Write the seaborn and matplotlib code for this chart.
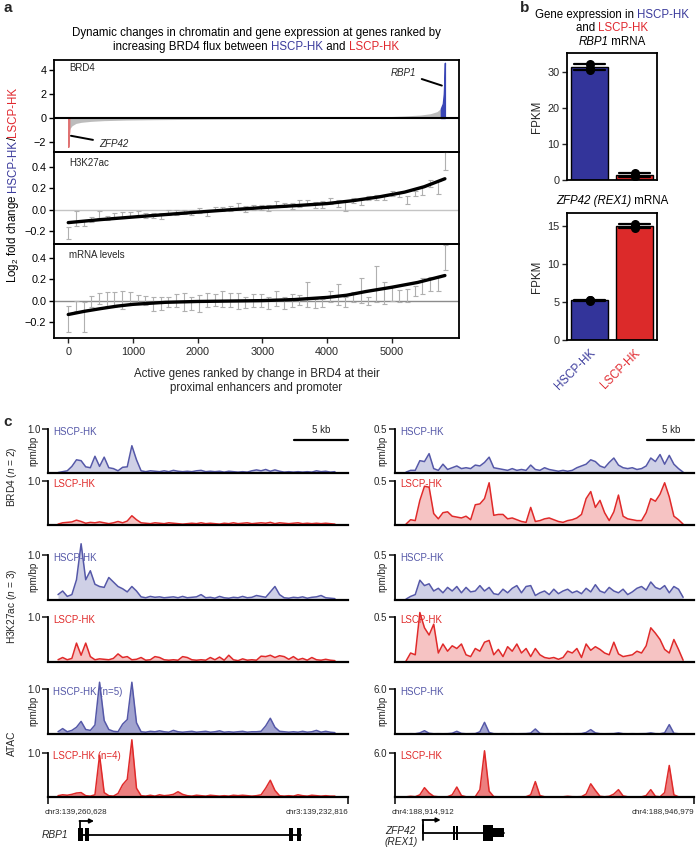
import numpy as np
import pandas as pd
import matplotlib
matplotlib.use('Agg')
import matplotlib.pyplot as plt
import seaborn as sns
from matplotlib.patches import Rectangle

sns.set_theme(style='ticks')
plt.rcParams['font.family'] = ['Liberation Sans', 'DejaVu Sans']
plt.rcParams['mathtext.fontset'] = 'custom'
plt.rcParams['mathtext.rm'] = 'Liberation Sans'
plt.rcParams['mathtext.it'] = 'Liberation Sans:italic'
plt.rcParams['mathtext.bf'] = 'Liberation Sans:bold'
plt.rcParams['axes.unicode_minus'] = True

BLUE_T = '#3b3b9c'
RED_T = '#e0282e'
BAR_BLUE = '#33349a'
BAR_RED = '#dc2a2a'
TR_BLUE = '#5558a8'
TR_RED = '#e02a2a'

# ---------------- panel a data ----------------
brd4_rank = [0, 6, 15, 30, 60, 120, 200, 350, 550, 900, 1325, 2000, 2870, 3600,
             4300, 4930, 5200, 5450, 5600, 5700, 5760, 5790, 5805, 5815, 5822]
brd4_lfc = [-2.4, -1.5, -1.1, -0.85, -0.64, -0.45, -0.36, -0.28, -0.22, -0.17, -0.14,
            -0.11, -0.08, -0.04, 0.02, 0.11, 0.17, 0.25, 0.36, 0.53, 0.8, 1.2, 2.0, 3.2, 4.6]

bin_rank = [0, 119, 238, 357, 476, 595, 714, 833, 952, 1071, 1190, 1309, 1428, 1547,
            1666, 1785, 1904, 2023, 2142, 2261, 2380, 2499, 2618, 2737, 2856, 2975,
            3094, 3213, 3332, 3451, 3570, 3689, 3808, 3927, 4046, 4165, 4284, 4403,
            4522, 4641, 4760, 4879, 4998, 5117, 5236, 5355, 5474, 5593, 5712, 5831]

h3_hi = [-0.16, -0.01, -0.10, -0.07, -0.015, -0.055, -0.03, -0.025, -0.02, -0.015,
         -0.03, -0.03, -0.03, -0.006, -0.006, 0.0, 0.0, 0.016, 0.0, 0.03,
         0.03, 0.037, 0.06, 0.037, 0.047, 0.047, 0.04, 0.08, 0.062, 0.062,
         0.09, 0.09, 0.07, 0.08, 0.106, 0.087, 0.08, 0.11, 0.11, 0.13,
         0.14, 0.14, 0.18, 0.17, 0.13, 0.18, 0.22, 0.275, 0.265, 0.54]
h3_lo = [-0.275, -0.15, -0.15, -0.11, -0.08, -0.095, -0.08, -0.08, -0.07, -0.06,
         -0.08, -0.08, -0.085, -0.047, -0.047, -0.037, -0.047, -0.03, -0.056, -0.006,
         -0.016, -0.016, -0.006, -0.025, 0.0, 0.0, -0.016, 0.025, 0.025, 0.006,
         0.03, 0.04, 0.016, 0.016, 0.056, 0.03, -0.01, 0.062, 0.047, 0.087,
         0.094, 0.087, 0.125, 0.115, 0.056, 0.125, 0.14, 0.21, 0.15, 0.37]
h3_fit_rank = [0, 500, 1000, 1500, 2000, 2500, 3000, 3500, 4000, 4400, 4800, 5200, 5500, 5822]
h3_fit = [-0.12, -0.092, -0.068, -0.045, -0.022, 0.0, 0.02, 0.038, 0.058, 0.085,
          0.12, 0.165, 0.215, 0.29]

mrna_hi = [-0.047, 0.0, -0.016, 0.047, 0.069, 0.078, 0.078, 0.094, 0.078, 0.056,
           0.047, 0.031, 0.037, 0.031, 0.063, 0.069, 0.031, 0.056, 0.069, 0.063,
           0.087, 0.069, 0.069, 0.031, 0.063, 0.063, 0.037, 0.094, 0.031, 0.063,
           0.056, 0.172, 0.016, 0.016, 0.094, 0.156, 0.037, 0.078, 0.212, 0.031,
           0.328, 0.178, 0.125, 0.1, 0.109, 0.141, 0.212, 0.225, 0.225, 0.516]
mrna_lo = [-0.297, -0.094, -0.297, -0.063, -0.031, -0.047, -0.063, -0.078, -0.031, -0.025,
           -0.037, -0.094, -0.087, -0.056, -0.056, -0.1, -0.087, -0.109, -0.063, -0.047,
           -0.056, -0.063, -0.078, -0.069, -0.063, -0.056, -0.078, -0.047, -0.078, -0.063,
           -0.037, -0.063, -0.069, -0.063, -0.016, -0.037, -0.056, -0.016, -0.025, -0.037,
           -0.016, -0.031, 0.0, -0.016, -0.016, 0.047, 0.063, 0.094, 0.094, 0.287]
mrna_fit_rank = [0, 250, 500, 750, 1000, 1500, 2000, 2500, 3000, 3500, 4000, 4300,
                 4600, 5000, 5400, 5822]
mrna_fit = [-0.13, -0.10, -0.075, -0.052, -0.035, -0.016, -0.008, -0.004, 0.0, 0.01,
            0.03, 0.05, 0.085, 0.125, 0.17, 0.235]

x_ticks_a = [0, 1000, 2000, 3000, 4000, 5000]

# ---------------- panel b data ----------------
conditions = ['HSCP-HK', 'LSCP-HK']
rbp1_hscp = [32.3, 31.2, 30.6]
rbp1_lscp = [1.9, 1.2, 1.1]
zfp42_hscp = [5.1, 5.3, 5.2]
zfp42_lscp = [15.3, 14.7, 15.0]

# ---------------- panel c data ----------------
left_len_kb = 27.812      # chr3:139,260,628 - 139,232,816
right_len_kb = 32.067     # chr4:188,914,912 - 188,946,979
left_span = (0.93, 26.6)
right_span = (1.18, 30.9)

brd4_hscp_L = [0.01, 0.03, 0.05, 0.15, 0.30, 0.28, 0.14, 0.12, 0.38, 0.15, 0.36, 0.12, 0.10,
               0.05, 0.13, 0.14, 0.62, 0.30, 0.05, 0.03, 0.05, 0.04, 0.03, 0.05, 0.03, 0.06,
               0.04, 0.03, 0.04, 0.03, 0.05, 0.06, 0.03, 0.04, 0.03, 0.04, 0.02, 0.04, 0.03,
               0.02, 0.03, 0.02, 0.05, 0.07, 0.05, 0.08, 0.04, 0.07, 0.04, 0.02, 0.03, 0.02,
               0.03, 0.02, 0.03, 0.02, 0.05, 0.03, 0.04, 0.02, 0.03]
brd4_lscp_L = [0.02, 0.05, 0.06, 0.07, 0.11, 0.08, 0.04, 0.06, 0.05, 0.07, 0.05, 0.03, 0.05,
               0.08, 0.05, 0.09, 0.21, 0.12, 0.05, 0.04, 0.03, 0.05, 0.04, 0.03, 0.05, 0.04,
               0.03, 0.02, 0.03, 0.04, 0.03, 0.05, 0.03, 0.04, 0.03, 0.02, 0.04, 0.03, 0.05,
               0.03, 0.04, 0.05, 0.03, 0.04, 0.05, 0.04, 0.06, 0.03, 0.05, 0.04, 0.03, 0.04,
               0.05, 0.03, 0.04, 0.03, 0.04, 0.03, 0.04, 0.03, 0.02]
h3_hscp_L = [0.12, 0.2, 0.08, 0.12, 0.45, 1.25, 0.45, 0.65, 0.35, 0.3, 0.28, 0.5, 0.4, 0.3,
             0.25, 0.18, 0.3, 0.2, 0.07, 0.05, 0.08, 0.06, 0.07, 0.05, 0.06, 0.07, 0.05,
             0.08, 0.05, 0.06, 0.07, 0.12, 0.05, 0.06, 0.04, 0.08, 0.05, 0.04, 0.06, 0.05,
             0.08, 0.05, 0.06, 0.1, 0.08, 0.06, 0.18, 0.3, 0.12, 0.05, 0.04, 0.06, 0.05,
             0.07, 0.04, 0.06, 0.07, 0.1, 0.05, 0.04, 0.03]
h3_lscp_L = [0.05, 0.1, 0.05, 0.08, 0.42, 0.15, 0.42, 0.12, 0.05, 0.07, 0.06, 0.05, 0.08,
             0.18, 0.1, 0.12, 0.05, 0.06, 0.1, 0.04, 0.05, 0.12, 0.1, 0.05, 0.04, 0.05,
             0.04, 0.12, 0.1, 0.05, 0.04, 0.05, 0.04, 0.1, 0.05, 0.11, 0.04, 0.15, 0.05,
             0.03, 0.07, 0.04, 0.05, 0.04, 0.13, 0.12, 0.15, 0.1, 0.14, 0.12, 0.06, 0.12,
             0.05, 0.08, 0.04, 0.1, 0.05, 0.04, 0.06, 0.04, 0.03]
atac_hscp_L = [0.05, 0.12, 0.05, 0.08, 0.15, 0.28, 0.1, 0.08, 0.2, 1.15, 0.3, 0.1, 0.06,
               0.05, 0.22, 0.32, 1.15, 0.25, 0.05, 0.04, 0.06, 0.05, 0.07, 0.05, 0.04,
               0.08, 0.05, 0.04, 0.05, 0.06, 0.04, 0.05, 0.06, 0.04, 0.05, 0.07, 0.04,
               0.05, 0.04, 0.05, 0.06, 0.04, 0.05, 0.05, 0.06, 0.18, 0.35, 0.15, 0.06,
               0.05, 0.04, 0.05, 0.04, 0.06, 0.04, 0.05, 0.08, 0.04, 0.06, 0.04, 0.03]
atac_lscp_L = [0.03, 0.05, 0.04, 0.06, 0.09, 0.1, 0.03, 0.02, 0.05, 0.95, 0.1, 0.03, 0.02,
               0.08, 0.28, 0.4, 1.3, 0.2, 0.03, 0.02, 0.04, 0.02, 0.05, 0.03, 0.04, 0.06,
               0.12, 0.06, 0.03, 0.02, 0.04, 0.03, 0.02, 0.04, 0.03, 0.02, 0.03, 0.02,
               0.04, 0.03, 0.04, 0.03, 0.02, 0.03, 0.05, 0.2, 0.38, 0.15, 0.03, 0.02, 0.03,
               0.02, 0.05, 0.03, 0.02, 0.04, 0.03, 0.02, 0.03, 0.02, 0.02]

brd4_hscp_R = [0.01, 0.03, 0.03, 0.14, 0.13, 0.22, 0.05, 0.03, 0.1, 0.04, 0.06, 0.08, 0.05,
               0.06, 0.05, 0.09, 0.08, 0.12, 0.18, 0.06, 0.05, 0.04, 0.03, 0.05, 0.03, 0.04,
               0.03, 0.09, 0.04, 0.03, 0.06, 0.04, 0.03, 0.02, 0.03, 0.02, 0.03, 0.06, 0.08,
               0.1, 0.15, 0.13, 0.08, 0.06, 0.12, 0.17, 0.09, 0.06, 0.05, 0.06, 0.04, 0.05,
               0.08, 0.17, 0.13, 0.21, 0.1, 0.2, 0.1, 0.05, 0.01]
brd4_lscp_R = [0.01, 0.06, 0.05, 0.28, 0.44, 0.43, 0.13, 0.07, 0.14, 0.15, 0.1, 0.09, 0.08,
               0.1, 0.06, 0.23, 0.24, 0.3, 0.48, 0.11, 0.12, 0.12, 0.07, 0.08, 0.06, 0.04,
               0.03, 0.2, 0.04, 0.05, 0.07, 0.08, 0.06, 0.04, 0.03, 0.05, 0.06, 0.08, 0.12,
               0.3, 0.38, 0.2, 0.28, 0.14, 0.05, 0.15, 0.34, 0.1, 0.07, 0.06, 0.05, 0.05,
               0.14, 0.3, 0.27, 0.35, 0.48, 0.32, 0.1, 0.06, 0.01]
h3_hscp_R = [0.01, 0.04, 0.06, 0.22, 0.16, 0.18, 0.1, 0.13, 0.08, 0.14, 0.1, 0.15, 0.08,
             0.14, 0.09, 0.1, 0.16, 0.1, 0.14, 0.07, 0.06, 0.12, 0.08, 0.13, 0.16, 0.08,
             0.15, 0.16, 0.05, 0.08, 0.1, 0.06, 0.12, 0.07, 0.1, 0.12, 0.08, 0.1, 0.07,
             0.13, 0.09, 0.17, 0.1, 0.08, 0.14, 0.1, 0.08, 0.12, 0.06, 0.09, 0.13, 0.15,
             0.11, 0.2, 0.14, 0.12, 0.16, 0.08, 0.15, 0.12, 0.03]
h3_lscp_R = [0.01, 0.1, 0.08, 0.55, 0.38, 0.3, 0.42, 0.1, 0.2, 0.12, 0.18, 0.15, 0.2, 0.08,
             0.06, 0.15, 0.12, 0.22, 0.24, 0.08, 0.14, 0.06, 0.17, 0.12, 0.2, 0.1, 0.15,
             0.06, 0.15, 0.08, 0.05, 0.04, 0.05, 0.03, 0.05, 0.12, 0.1, 0.15, 0.05, 0.2,
             0.13, 0.17, 0.14, 0.1, 0.08, 0.22, 0.09, 0.06, 0.07, 0.08, 0.12, 0.1, 0.18,
             0.38, 0.32, 0.25, 0.14, 0.1, 0.25, 0.14, 0.02]
atac_hscp_R = [0.02, 0.04, 0.03, 0.15, 0.44, 0.1, 0.03, 0.04, 0.03, 0.04, 0.1, 0.36, 0.08,
               0.03, 0.04, 0.05, 0.3, 1.55, 0.2, 0.04, 0.03, 0.04, 0.03, 0.04, 0.03, 0.04,
               0.05, 0.12, 0.67, 0.08, 0.03, 0.04, 0.03, 0.04, 0.03, 0.04, 0.03, 0.04,
               0.05, 0.2, 0.58, 0.15, 0.04, 0.03, 0.04, 0.05, 0.15, 0.04, 0.03, 0.04,
               0.03, 0.04, 0.05, 0.15, 0.04, 0.03, 0.15, 1.25, 0.1, 0.03, 0.02]
atac_lscp_R = [0.02, 0.1, 0.04, 0.3, 1.27, 0.55, 0.1, 0.03, 0.02, 0.04, 0.3, 1.36, 0.2,
               0.03, 0.02, 0.04, 1.0, 6.3, 0.8, 0.05, 0.03, 0.02, 0.03, 0.02, 0.03, 0.02,
               0.04, 0.3, 2.1, 0.2, 0.03, 0.02, 0.03, 0.02, 0.03, 0.1, 0.04, 0.03, 0.05,
               0.4, 1.8, 0.9, 0.1, 0.03, 0.1, 0.4, 1.0, 0.15, 0.03, 0.02, 0.03, 0.02, 0.2,
               1.0, 0.1, 0.03, 0.6, 4.3, 0.3, 0.03, 0.02]

rbp1_exons = [(2.78, 3.24), (3.43, 3.80), (22.3, 22.7), (23.1, 23.5)]
rbp1_body = (2.97, 23.5)
rbp1_tss = 2.97
zfp42_exons = [(6.22, 6.44), (6.54, 6.76)]
zfp42_cds = (9.44, 10.5)
zfp42_utr = (10.5, 11.7)
zfp42_body = (3.0, 11.7)
zfp42_tss = 3.0

# ---------------- figure helpers ----------------
W, H = 696, 848
fig = plt.figure(figsize=(W / 100, H / 100), dpi=100)
renderer = fig.canvas.get_renderer()


def add_ax(x0, y0, x1, y1):
    return fig.add_axes([x0 / W, 1 - y1 / H, (x1 - x0) / W, (y1 - y0) / H])


def fx(x):
    return x / W


def fy(y):
    return 1 - y / H


def text_adv(s, size, style):
    t = fig.text(0, 0, '|' + s + '|', fontsize=size, fontstyle=style)
    t2 = fig.text(0, 0, '||', fontsize=size, fontstyle=style)
    w = t.get_window_extent(renderer).width - t2.get_window_extent(renderer).width
    t.remove()
    t2.remove()
    return w


def multicolor(xc, yb, pieces, size, rotation=0):
    advs = [text_adv(s, size, st) for s, c, st in pieces]
    pos = -sum(advs) / 2
    for (s, c, st), a in zip(pieces, advs):
        if rotation == 0:
            fig.text(fx(xc + pos), fy(yb), s, color=c, fontsize=size, fontstyle=st,
                     ha='left', va='baseline')
        else:
            fig.text(fx(xc), fy(yb - pos), s, color=c, fontsize=size, fontstyle=st,
                     ha='left', va='baseline', rotation=90, rotation_mode='anchor')
        pos += a


# ---------------- panel a ----------------
fig.text(fx(3), fy(8), 'a', fontsize=11, fontweight='bold', va='center', ha='left')
multicolor(256, 36, [('Dynamic changes in chromatin and gene expression at genes ranked by', 'black', 'normal')], 8.3)
multicolor(256, 50, [('increasing BRD4 flux between ', 'black', 'normal'), ('HSCP-HK', BLUE_T, 'normal'),
                     (' and ', 'black', 'normal'), ('LSCP-HK', RED_T, 'normal')], 8.3)

axA1 = add_ax(54, 60, 459, 152)
axA2 = add_ax(54, 152, 459, 244)
axA3 = add_ax(54, 244, 459, 338)

r = np.array(brd4_rank)
v = np.array(brd4_lfc)
m_red = r <= 15
m_gray = (r >= 15) & (r <= 5760)
m_blue = r >= 5760
axA1.fill_between(r[m_gray], v[m_gray], 0, color='#bcbcbc', lw=0)
axA1.fill_between(r[m_red], v[m_red], 0, color='#e07272', edgecolor='#e07272', lw=1.0)
axA1.fill_between(r[m_blue], v[m_blue], 0, color='#3a46b6', edgecolor='#3a46b6', lw=1.0)
axA1.axhline(0, color='black', lw=1.5)
axA1.set_ylim(-2.83, 4.83)
axA1.set_yticks([-2, 0, 2, 4])
axA1.set_yticklabels(['\u22122', '0', '2', '4'])
axA1.annotate('RBP1', xy=(5775, 2.7), xytext=(5373, 3.75), fontsize=7, fontstyle='italic',
              ha='right', va='center',
              arrowprops=dict(arrowstyle='-', lw=1.4, color='black', shrinkA=2, shrinkB=0))
axA1.annotate('ZFP42', xy=(42, -1.48), xytext=(475, -2.14), fontsize=7, fontstyle='italic',
              ha='left', va='center',
              arrowprops=dict(arrowstyle='-', lw=1.4, color='black', shrinkA=2, shrinkB=0))
axA1.text(0.037, 0.91, 'BRD4', transform=axA1.transAxes, fontsize=7, va='center')

br = np.array(bin_rank)
for ax, lo, hi, fr, fv, zc, lab, ylim in [
        (axA2, h3_lo, h3_hi, h3_fit_rank, h3_fit, '#c4c4c4', 'H3K27ac', (-0.32, 0.54)),
        (axA3, mrna_lo, mrna_hi, mrna_fit_rank, mrna_fit, '#8c8c8c', 'mRNA levels', (-0.35, 0.53))]:
    lo = np.array(lo)
    hi = np.array(hi)
    mid = (lo + hi) / 2
    ax.axhline(0, color=zc, lw=1.0, zorder=1)
    ax.errorbar(br, mid, yerr=[mid - lo, hi - mid], fmt='none', ecolor='#b0b0b0',
                elinewidth=0.8, capsize=1.8, capthick=0.8, zorder=2)
    sns.lineplot(x=fr, y=fv, color='black', lw=2.4, ax=ax, zorder=3)
    ax.set_ylim(*ylim)
    ax.set_yticks([-0.2, 0.0, 0.2, 0.4])
    ax.set_yticklabels(['\u22120.2', '0.0', '0.2', '0.4'])
    ax.text(0.037, 0.88, lab, transform=ax.transAxes, fontsize=7, va='center')

for ax in (axA1, axA2, axA3):
    ax.set_xlim(-220, 6040)
    ax.set_ylabel('')
    ax.set_xlabel('')
    for s in ax.spines.values():
        s.set_linewidth(1.3)
        s.set_color('black')
    ax.tick_params(axis='y', direction='out', length=3.5, width=1.0, labelsize=7.8, pad=2,
                   colors='black')
    ax.patch.set_alpha(0)
for ax in (axA1, axA2):
    ax.set_xticks([])
axA3.set_xticks(x_ticks_a)
axA3.set_xticklabels([str(t) for t in x_ticks_a])
axA3.tick_params(axis='x', direction='out', length=3.5, width=1.0, labelsize=7.8, pad=3)

fig.text(fx(256.5), fy(374), 'Active genes ranked by change in BRD4 at their', fontsize=8.3,
         ha='center', va='center')
fig.text(fx(256.5), fy(388), 'proximal enhancers and promoter', fontsize=8.3,
         ha='center', va='center')
multicolor(16, 185, [('Log$_2$ fold change ', 'black', 'normal'), ('HSCP-HK', BLUE_T, 'normal'),
                     ('/', 'black', 'normal'), ('LSCP-HK', RED_T, 'normal')], 8.3, rotation=90)

# ---------------- panel b ----------------
fig.text(fx(520), fy(8), 'b', fontsize=11, fontweight='bold', va='center', ha='left')
multicolor(612, 18, [('Gene expression in ', 'black', 'normal'), ('HSCP-HK', BLUE_T, 'normal')], 8.3)
multicolor(612, 31, [('and ', 'black', 'normal'), ('LSCP-HK', RED_T, 'normal')], 8.3)
multicolor(612, 45, [('RBP1', 'black', 'italic'), (' mRNA', 'black', 'normal')], 8.3)
multicolor(612, 204, [('ZFP42 (REX1)', 'black', 'italic'), (' mRNA', 'black', 'normal')], 8.3)

axB1 = add_ax(567, 53, 657, 180)
axB2 = add_ax(567, 213, 657, 340)
for ax, hv, lv, ymax, yt in [(axB1, rbp1_hscp, rbp1_lscp, 35.3, [0, 10, 20, 30]),
                             (axB2, zfp42_hscp, zfp42_lscp, 16.7, [0, 5, 10, 15])]:
    df = pd.DataFrame({'cond': [conditions[0]] * len(hv) + [conditions[1]] * len(lv),
                       'fpkm': hv + lv})
    sns.barplot(data=df, x='cond', y='fpkm', hue='cond', order=conditions,
                palette=[BAR_BLUE, BAR_RED], saturation=1, errorbar='sd', capsize=0.7,
                width=0.82, edgecolor='black', linewidth=1.0, legend=False,
                err_kws={'color': 'black', 'linewidth': 1.6}, ax=ax)
    sns.stripplot(data=df, x='cond', y='fpkm', order=conditions, color='black', size=6.5,
                  jitter=False, ax=ax, zorder=5)
    ax.set_xlim(-0.5, 1.5)
    ax.set_ylim(0, ymax)
    ax.set_yticks(yt)
    ax.set_ylabel('FPKM', fontsize=8.3, labelpad=3)
    ax.set_xlabel('')
    for s in ax.spines.values():
        s.set_linewidth(1.3)
        s.set_color('black')
    ax.tick_params(axis='y', direction='out', length=3.5, width=1.0, labelsize=7.8, pad=2)
axB1.set_xticks([])
axB2.set_xticks([0, 1])
axB2.set_xticklabels(conditions, rotation=45, ha='right', rotation_mode='anchor', fontsize=8.3)
axB2.tick_params(axis='x', length=0, pad=5)
for lbl, c in zip(axB2.get_xticklabels(), [BLUE_T, RED_T]):
    lbl.set_color(c)

# ---------------- panel c ----------------
fig.text(fx(3), fy(422), 'c', fontsize=11, fontweight='bold', va='center', ha='left')
rows = [(429, 473), (481, 525), (555, 600), (617, 662), (689, 734), (753, 797)]
left_tracks = [brd4_hscp_L, brd4_lscp_L, h3_hscp_L, h3_lscp_L, atac_hscp_L, atac_lscp_L]
right_tracks = [brd4_hscp_R, brd4_lscp_R, h3_hscp_R, h3_lscp_R, atac_hscp_R, atac_lscp_R]
left_ymax = [1.0] * 6
right_ymax = [0.5, 0.5, 0.5, 0.5, 6.0, 6.0]
left_names = ['HSCP-HK', 'LSCP-HK', 'HSCP-HK', 'LSCP-HK', 'HSCP-HK (n=5)', 'LSCP-HK (n=4)']
right_names = ['HSCP-HK', 'LSCP-HK', 'HSCP-HK', 'LSCP-HK', 'HSCP-HK', 'LSCP-HK']
fill_alpha = [0.28, 0.28, 0.28, 0.28, 0.55, 0.6]

for (x0, x1, tracks, ymaxs, names, span, L, chr_l, chr_r) in [
        (48, 348, left_tracks, left_ymax, left_names, left_span, left_len_kb,
         'chr3:139,260,628', 'chr3:139,232,816'),
        (395, 694, right_tracks, right_ymax, right_names, right_span, right_len_kb,
         'chr4:188,914,912', 'chr4:188,946,979')]:
    for i, ((y0, y1), vals, ymax, name) in enumerate(zip(rows, tracks, ymaxs, names)):
        ax = add_ax(x0, y0, x1, y1)
        col = TR_BLUE if i % 2 == 0 else TR_RED
        pos = np.linspace(span[0], span[1], len(vals))
        ax.fill_between(pos, vals, 0, color=col, alpha=fill_alpha[i], lw=0, clip_on=False)
        sns.lineplot(x=pos, y=vals, color=col, lw=1.1, ax=ax, clip_on=False)
        ax.set_xlim(0, L)
        ax.set_ylim(0, ymax)
        ax.set_xlabel('')
        ax.set_ylabel('')
        ax.patch.set_alpha(0)
        for sp in ('top', 'right'):
            ax.spines[sp].set_visible(False)
        ax.spines['left'].set_bounds(0, ymax)
        ax.spines['left'].set_linewidth(1.3)
        ax.spines['bottom'].set_linewidth(1.6)
        ax.spines['left'].set_color('black')
        ax.spines['bottom'].set_color('black')
        ax.set_yticks([ymax])
        ax.set_yticklabels(['%.1f' % ymax])
        ax.tick_params(axis='y', direction='out', length=4, width=1.2, labelsize=7, pad=1.5)
        ax.text(0.018, 0.93, name, transform=ax.transAxes, color=col, fontsize=7, va='center',
                ha='left')
        if i == 0:
            ax.plot([L - 5, L], [0.75 * ymax, 0.75 * ymax], color='black', lw=1.6,
                    clip_on=False)
            ax.text(L - 2.5, 0.97 * ymax, '5 kb', ha='center', va='center', fontsize=7)
        if i == 5:
            ax.set_xticks([0, L])
            ax.set_xticklabels(['', ''])
            ax.tick_params(axis='x', direction='out', length=5, width=1.3)
            ax.text(-0.01, -0.32, chr_l, transform=ax.transAxes, fontsize=5.8, ha='left',
                    va='center')
            ax.text(1.0, -0.32, chr_r, transform=ax.transAxes, fontsize=5.8, ha='right',
                    va='center')
        else:
            ax.set_xticks([])

# rotated labels in panel c
for xr in (33, 382):
    for yc in (451, 577, 711):
        fig.text(fx(xr), fy(yc), 'rpm/bp', rotation=90, fontsize=7, ha='center', va='center')
fig.text(fx(12), fy(477), 'BRD4 ($n$ = 2)', rotation=90, fontsize=7.3, ha='center', va='center')
fig.text(fx(12), fy(606), 'H3K27ac ($n$ = 3)', rotation=90, fontsize=7.3, ha='center', va='center')
fig.text(fx(12), fy(743), 'ATAC', rotation=90, fontsize=7.3, ha='center', va='center')

# gene models
gL = add_ax(48, 815, 348, 848)
gL.set_xlim(0, left_len_kb)
gL.set_ylim(33, 0)
gL.axis('off')
gL.plot(rbp1_body, [20, 20], color='black', lw=1.3)
for s, e in rbp1_exons:
    gL.add_patch(Rectangle((s, 13), e - s, 13, color='black', lw=0))
gL.plot([rbp1_tss, rbp1_tss], [20, 6], color='black', lw=1.3)
gL.annotate('', xy=(rbp1_tss + 1.3, 6), xytext=(rbp1_tss - 0.05, 6),
            arrowprops=dict(arrowstyle='-|>', lw=1.3, color='black', mutation_scale=6,
                            shrinkA=0, shrinkB=0))
gL.text(1.85, 20, 'RBP1', fontstyle='italic', fontsize=7.3, ha='right', va='center')

gR = add_ax(395, 815, 694, 848)
gR.set_xlim(0, right_len_kb)
gR.set_ylim(33, 0)
gR.axis('off')
gR.plot(zfp42_body, [18, 18], color='black', lw=1.3)
gR.plot([zfp42_tss, zfp42_tss], [10, 25], color='black', lw=1.3)
for s, e in zfp42_exons:
    gR.add_patch(Rectangle((s, 11), e - s, 14, color='black', lw=0))
gR.add_patch(Rectangle((zfp42_cds[0], 10), zfp42_cds[1] - zfp42_cds[0], 16, color='black', lw=0))
gR.add_patch(Rectangle((zfp42_utr[0], 13), zfp42_utr[1] - zfp42_utr[0], 9, color='black', lw=0))
gR.plot([zfp42_tss, zfp42_tss], [18, 5], color='black', lw=1.3)
gR.annotate('', xy=(zfp42_tss + 1.9, 5), xytext=(zfp42_tss - 0.05, 5),
            arrowprops=dict(arrowstyle='-|>', lw=1.3, color='black', mutation_scale=6,
                            shrinkA=0, shrinkB=0))
gR.text(2.4, 21.5, 'ZFP42\n(REX1)', fontstyle='italic', fontsize=7.3, ha='right', va='center',
        multialignment='center', linespacing=1.1)

fig.savefig('out.png', dpi=100)
